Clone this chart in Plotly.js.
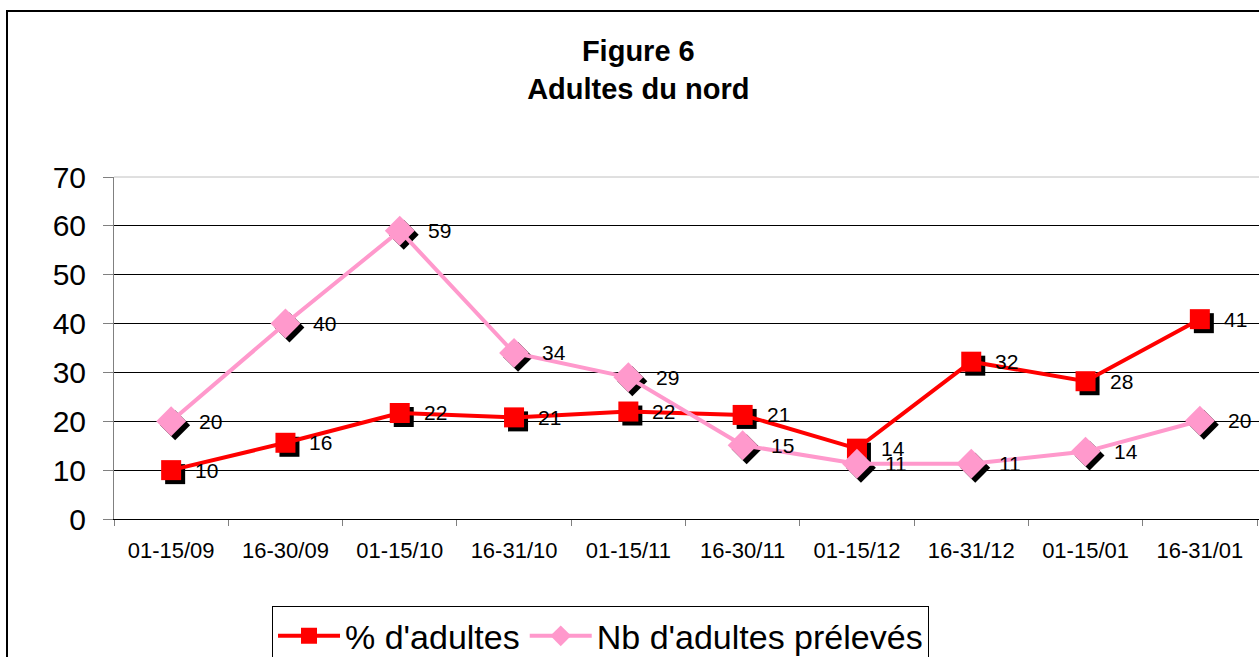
<!DOCTYPE html>
<html>
<head>
<meta charset="utf-8">
<script src="https://cdn.plot.ly/plotly-3.0.1.min.js"></script>
<style>html,body{margin:0;padding:0;background:#fff;}#chart{width:1259px;height:657px;}</style>
</head>
<body>
<div id="chart"></div>
<script>
var categories = ['01-15/09','16-30/09','01-15/10','16-31/10','01-15/11','16-30/11','01-15/12','16-31/12','01-15/01','16-31/01'];
var pctAdultes = [10, 15.6, 21.7, 20.8, 22, 21.3, 14.4, 32.2, 28.2, 40.9];
var nbAdultes = [20, 40, 59, 34, 29, 15.1, 11.3, 11.3, 13.8, 20.1];
var seriesNames = ['% d\'adultes', 'Nb d\'adultes prélevés'];
var yTicks = [0, 10, 20, 30, 40, 50, 60, 70];

var FONT = 'Liberation Sans, Arial, sans-serif';
var RED = '#FF0000', PINK = '#FF99CC';
var W = 1259, H = 657;
var mL = 114, mR = 0, mT = 177, mB = 138;
var plotH = H - mT - mB;
var xRange = [-0.5, 9.5 + 2 / ((W - mL) / 10)];
var yRange = [0, 70];
var pxPerCat = (W - mL) / (xRange[1] - xRange[0]);
var pxPerUnit = plotH / 70;
var sh = 4; // shadow offset in px
var dx = sh / pxPerCat, dy = sh / pxPerUnit;

var traces = [
  // dummy trace to establish categories on main axes
  {x: categories, y: pctAdultes, xaxis: 'x', yaxis: 'y', mode: 'markers', marker: {opacity: 0}, showlegend: false, hoverinfo: 'skip'},
  // shadows
  {x: categories, y: pctAdultes, xaxis: 'x2', yaxis: 'y2', mode: 'markers', marker: {symbol: 'square', size: 20, color: '#000'}, showlegend: false, hoverinfo: 'skip'},
  {x: categories, y: nbAdultes, xaxis: 'x2', yaxis: 'y2', mode: 'markers', marker: {symbol: 'diamond', size: 23, color: '#000'}, showlegend: false, hoverinfo: 'skip'},
  // main series
  {x: categories, y: pctAdultes, name: seriesNames[0], xaxis: 'x3', yaxis: 'y3', mode: 'lines+markers',
   line: {color: RED, width: 4}, marker: {symbol: 'square', size: 20, color: RED}},
  {x: categories, y: nbAdultes, name: seriesNames[1], xaxis: 'x3', yaxis: 'y3', mode: 'lines+markers',
   line: {color: PINK, width: 4}, marker: {symbol: 'diamond', size: 23, color: PINK}}
];

var annotations = [];
function addLabels(vals, shift) {
  for (var i = 0; i < categories.length; i++) {
    annotations.push({x: categories[i], y: vals[i], xref: 'x3', yref: 'y3', text: String(Math.round(vals[i])),
      showarrow: false, xanchor: 'left', yanchor: 'middle', xshift: shift,
      font: {family: FONT, size: 21, color: '#000'}});
  }
}
addLabels(pctAdultes, 22);
addLabels(nbAdultes, 26);

var hiddenAx = {visible: false, showgrid: false, zeroline: false, fixedrange: true};
var layout = {
  width: W, height: H,
  margin: {l: mL, r: mR, t: mT, b: mB, autoexpand: false},
  paper_bgcolor: '#fff', plot_bgcolor: 'rgba(0,0,0,0)',
  font: {family: FONT, color: '#000'},
  title: {text: '<b>Figure 6</b><br><b>Adultes du nord</b>', font: {family: FONT, size: 29, color: '#000'},
          x: 0.507, xanchor: 'center', y: 0.907, yanchor: 'top', yref: 'container'},
  xaxis: {type: 'category', categoryorder: 'array', categoryarray: categories, range: xRange,
          showgrid: false, zeroline: false, showline: true, linecolor: '#000', linewidth: 1,
          ticks: 'outside', tickson: 'boundaries', ticklen: 6, tickcolor: '#808080', tickwidth: 1,
          tickfont: {family: FONT, size: 22, color: '#000'}, ticklabelstandoff: 12, fixedrange: true},
  yaxis: {range: yRange, tickvals: yTicks, showgrid: true, gridcolor: '#000', gridwidth: 1, zeroline: false,
          showline: true, linecolor: '#808080', linewidth: 1, ticks: 'outside', ticklen: 10, tickcolor: '#808080',
          tickfont: {family: FONT, size: 30, color: '#000'}, ticklabelstandoff: 11, fixedrange: true},
  xaxis2: Object.assign({type: 'category', categoryorder: 'array', categoryarray: categories, range: [xRange[0] - dx, xRange[1] - dx], anchor: 'y2'}, hiddenAx),
  yaxis2: Object.assign({range: [yRange[0] + dy, yRange[1] + dy], anchor: 'x2'}, hiddenAx),
  xaxis3: Object.assign({type: 'category', categoryorder: 'array', categoryarray: categories, range: xRange, anchor: 'y3'}, hiddenAx),
  yaxis3: Object.assign({range: yRange, anchor: 'x3'}, hiddenAx),
  showlegend: true,
  legend: {orientation: 'h', x: 0.138, xanchor: 'left', y: -0.255, yanchor: 'top',
           bordercolor: '#000', borderwidth: 1, bgcolor: '#fff', itemwidth: 62,
           font: {family: FONT, size: 34, color: '#000'}},
  annotations: annotations,
  shapes: [
    {type: 'rect', xref: 'paper', yref: 'paper', x0: (7 - mL) / (W - mL), x1: 1.05, y0: -0.6, y1: (H - mB - 11) / plotH,
     line: {color: '#000', width: 2}, fillcolor: 'rgba(0,0,0,0)', layer: 'below'},
    {type: 'line', xref: 'paper', yref: 'paper', x0: 0, x1: 1, y0: 1, y1: 1, line: {color: '#c0c0c0', width: 1}}
  ]
};

Plotly.newPlot('chart', traces, layout, {displayModeBar: false, staticPlot: true});
</script>
</body>
</html>
